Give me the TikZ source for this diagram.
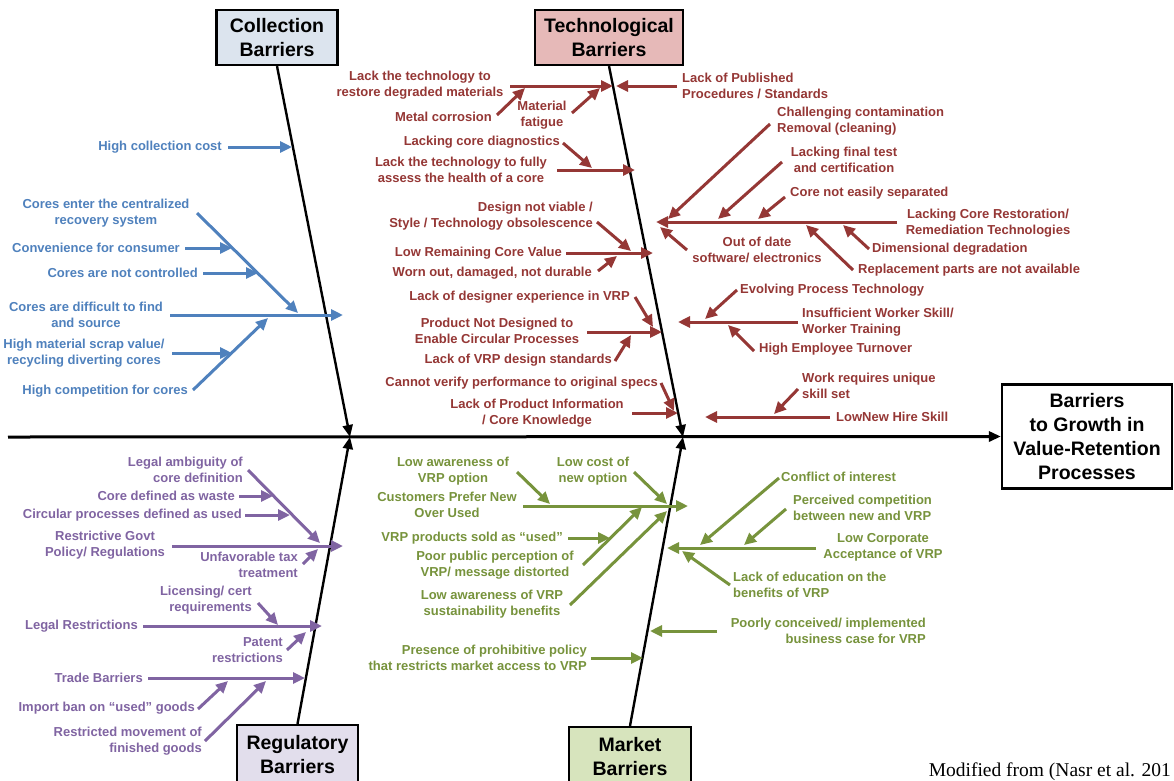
\documentclass[tikz,border=0pt]{standalone}
\usepackage{fontspec}
\setmainfont{Liberation Serif}
\setsansfont{Liberation Sans}
\usetikzlibrary{arrows.meta}
\definecolor{cb}{HTML}{4F81BD}
\definecolor{cr}{HTML}{953735}
\definecolor{cp}{HTML}{8064A2}
\definecolor{cg}{HTML}{77933C}
\definecolor{fcol}{HTML}{DCE4EE}
\definecolor{ftec}{HTML}{E6B9B8}
\definecolor{freg}{HTML}{E2DEEC}
\definecolor{fmkt}{HTML}{D7E4BD}
\newcommand\lf{\sffamily\bfseries\fontsize{13}{16}\selectfont}
\newcommand\tf{\sffamily\bfseries\fontsize{19.5}{24}\selectfont}
\newcommand\cx[4]{\coordinate (#2a) at (#3);\coordinate (#2b) at (#4);\draw[#1] (#2a) -- (#2b);}
\tikzset{
  lb/.style={font=\lf, text=#1, inner sep=0pt, align=center},
  ar/.style={draw=#1, line width=3pt, -{Triangle[length=12pt,width=11pt]}},
  catbox/.style={draw=black, line width=2.2pt, font=\tf, align=center, inner sep=0pt},
  bonear/.style={draw=black, line width=2.4pt, -{Triangle[length=12pt,width=10pt]}},
}
\begin{document}
\begin{tikzpicture}[x=1pt,y=-1pt]
\fill[white] (0,0) rectangle (1174,780);
\useasboundingbox (0,0) rectangle (1174,780);

% ---------- category boxes and main box ----------
\node[catbox, fill=fcol, minimum width=121, minimum height=55] (colbox) at (277,37.5) {Collection\\Barriers};
\node[catbox, fill=ftec, minimum width=148, minimum height=55] (tecbox) at (609,37.5) {Technological\\Barriers};
\node[catbox, fill=freg, minimum width=121, minimum height=60] (regbox) at (297.5,755) {Regulatory\\Barriers};
\node[catbox, fill=fmkt, minimum width=122, minimum height=60] (mktbox) at (630,757) {Market\\Barriers};
\node[catbox, fill=white, minimum width=170, minimum height=104] (goal) at (1087,436.5) {Barriers\\to Growth in\\Value-Retention\\Processes};

% ---------- spine and bones ----------
\coordinate (spL) at (8,437);
\draw[bonear, line width=3pt] (spL) -- (goal.west);
\coordinate (hitC) at (350,437);
\coordinate (hitT) at (683,437);
\draw[bonear] (colbox.south) -- (hitC);
\draw[bonear] (tecbox.south) -- (hitT);
\draw[bonear] (regbox.north) -- (hitC);
\draw[bonear] (mktbox.north) -- (hitT);

% ---------- Collection (blue) ----------
\node[lb=cb, anchor=east] (c1) at (222,147) {High collection cost};
\cx{ar=cb}{c1}{228,147}{292,147}
\node[lb=cb] (c2) at (106,213) {Cores enter the centralized\\recovery system};
\cx{ar=cb}{c2}{197,213}{298,313}
\node[lb=cb, anchor=east] (c3) at (180,248) {Convenience for consumer};
\cx{ar=cb}{c3}{185,248}{232,248}
\node[lb=cb, anchor=east] (c4) at (198,273) {Cores are not controlled};
\cx{ar=cb}{c4}{203,273}{258,273}
\node[lb=cb] (c5) at (86,315) {Cores are difficult to find\\and source};
\cx{ar=cb}{c5}{170,315}{343,315}
\node[lb=cb] (c6) at (84,353) {High material scrap value/\\recycling diverting cores};
\cx{ar=cb}{c6}{172,353}{232,353}
\node[lb=cb, anchor=east] (c7) at (188,391) {High competition for cores};
\cx{ar=cb}{c7}{193,390}{268,318}

% ---------- Technological (red) ----------
\node[lb=cr] (t1) at (420,85.5) {Lack the technology to\\restore degraded materials};
\cx{ar=cr}{t1}{510,86}{613,86}
\node[lb=cr, anchor=west, align=left] (t2) at (682,86) {Lack of Published\\Procedures / Standards};
\cx{ar=cr}{t2}{677,86}{616,86}
\node[lb=cr, anchor=east] (t3) at (492,117) {Metal corrosion};
\cx{ar=cr}{t3}{497,115}{525,88}
\node[lb=cr] (t4) at (542,115) {Material\\fatigue};
\cx{ar=cr}{t4}{572,113}{600,88}
\node[lb=cr, anchor=east] (t5) at (560,142) {Lacking core diagnostics};
\cx{ar=cr}{t5}{563,143}{592,168}
\node[lb=cr] (t6) at (461,170) {Lack the technology to fully\\assess the health of a core};
\cx{ar=cr}{t6}{557,170}{635,170}
\node[lb=cr, anchor=east, align=right] (t7) at (593,216) {Design not viable /\\Style / Technology obsolescence};
\cx{ar=cr}{t7}{597,222}{631,251}
\node[lb=cr, anchor=east] (t8) at (562,253) {Low Remaining Core Value};
\cx{ar=cr}{t8}{566,253}{653,253}
\node[lb=cr, anchor=east] (t9) at (592,273) {Worn out, damaged, not durable};
\cx{ar=cr}{t9}{598,271}{617,256}
\node[lb=cr, anchor=east] (t10) at (630,297) {Lack of designer experience in VRP};
\cx{ar=cr}{t10}{635,297}{653,327}
\node[lb=cr] (t11) at (497,331) {Product Not Designed to\\Enable Circular Processes};
\cx{ar=cr}{t11}{587,332}{662,332}
\node[lb=cr, anchor=east] (t12) at (612,360) {Lack of VRP design standards};
\cx{ar=cr}{t12}{615,361}{631,335}
\node[lb=cr, anchor=east] (t13) at (658,383) {Cannot verify performance to original specs};
\cx{ar=cr}{t13}{661,383}{674,411}
\node[lb=cr] (t14) at (537,413) {Lack of Product Information\\/ Core Knowledge};
\cx{ar=cr}{t14}{632,413}{678,413}
% right side
\node[lb=cr] (t15) at (988,223) {Lacking Core Restoration/\\Remediation Technologies};
\cx{ar=cr}{t15}{897,222}{656,222}
\node[lb=cr, anchor=west, align=left] (t16) at (777,121) {Challenging contamination\\Removal (cleaning)};
\cx{ar=cr}{t16}{770,124}{668,219}
\node[lb=cr] (t17) at (844,160) {Lacking final test\\and certification};
\cx{ar=cr}{t17}{782,162}{718,219}
\node[lb=cr, anchor=west] (t18) at (790,193) {Core not easily separated};
\cx{ar=cr}{t18}{785,197}{758,219}
\node[lb=cr] (t19) at (757,250) {Out of date\\software/ electronics};
\cx{ar=cr}{t19}{687,250}{660,227}
\node[lb=cr, anchor=west] (t20) at (872,249) {Dimensional degradation};
\cx{ar=cr}{t20}{869,249}{843,225}
\node[lb=cr, anchor=west] (t21) at (858,270) {Replacement parts are not available};
\cx{ar=cr}{t21}{853,270}{806,225}
\node[lb=cr, anchor=west, align=left] (t22) at (802,322) {Insufficient Worker Skill/\\Worker Training};
\cx{ar=cr}{t22}{798,322}{678,322}
\node[lb=cr, anchor=west] (t23) at (740,290) {Evolving Process Technology};
\cx{ar=cr}{t23}{737,290}{705,319}
\node[lb=cr, anchor=west] (t24) at (759,349) {High Employee Turnover};
\cx{ar=cr}{t24}{754,351}{728,325}
\node[lb=cr, anchor=west, align=left] (t25) at (802,386) {Work requires unique\\skill set};
\cx{ar=cr}{t25}{798,389}{774,414}
\node[lb=cr, anchor=west] (t26) at (836,417) {LowNew Hire Skill};
\cx{ar=cr}{t26}{830,417}{705,417}

% ---------- Regulatory (purple) ----------
\node[lb=cp, anchor=east, align=right] (r1) at (243,470) {Legal ambiguity of\\core definition};
\cx{ar=cp}{r1}{248,470}{320,543}
\node[lb=cp, anchor=east] (r2) at (235,496) {Core defined as waste};
\cx{ar=cp}{r2}{239,496}{273,496}
\node[lb=cp, anchor=east] (r3) at (242,515) {Circular processes defined as used};
\cx{ar=cp}{r3}{245,515}{290,515}
\node[lb=cp] (r4) at (105,545) {Restrictive Govt\\Policy/ Regulations};
\cx{ar=cp}{r4}{172,546}{343,546}
\node[lb=cp, anchor=east, align=right] (r5) at (298,565) {Unfavorable tax\\treatment};
\cx{ar=cp}{r5}{303,564}{318,549}
\node[lb=cp, anchor=east, align=right] (r6) at (252,600) {Licensing/ cert\\requirements};
\cx{ar=cp}{r6}{258,603}{278,625}
\node[lb=cp, anchor=east] (r7) at (138,626) {Legal Restrictions};
\cx{ar=cp}{r7}{143,626}{322,626}
\node[lb=cp, anchor=east, align=right] (r8) at (283,650) {Patent\\restrictions};
\cx{ar=cp}{r8}{287,650}{306,632}
\node[lb=cp, anchor=east] (r9) at (143,678) {Trade Barriers};
\cx{ar=cp}{r9}{148,678}{305,678}
\node[lb=cp, anchor=east] (r10) at (195,708) {Import ban on “used” goods};
\cx{ar=cp}{r10}{198,709}{228,681}
\node[lb=cp, anchor=east, align=right] (r11) at (202,741) {Restricted movement of\\finished goods};
\cx{ar=cp}{r11}{205,741}{266,681}

% ---------- Market (green) ----------
\node[lb=cg] (m1) at (453,471) {Low awareness of\\VRP option};
\cx{ar=cg}{m1}{517,472}{550,504}
\node[lb=cg] (m2) at (593,471) {Low cost of\\new option};
\cx{ar=cg}{m2}{634,472}{667,504}
\node[lb=cg] (m3) at (447,505) {Customers Prefer New\\Over Used};
\cx{ar=cg}{m3}{523,506}{688,506}
\node[lb=cg, anchor=east] (m4) at (563,538) {VRP products sold as “used”};
\cx{ar=cg}{m4}{568,538}{610,538}
\node[lb=cg] (m5) at (495,565) {Poor public perception of\\VRP/ message distorted};
\cx{ar=cg}{m5}{583,565}{642,507}
\node[lb=cg] (m6) at (492,604) {Low awareness of VRP\\sustainability benefits};
\cx{ar=cg}{m6}{570,605}{667,511}
\node[lb=cg, anchor=east, align=right] (m7) at (587,658) {Presence of prohibitive policy\\that restricts market access to VRP};
\cx{ar=cg}{m7}{591,658}{643,658}
% right side
\node[lb=cg, anchor=west] (m8) at (781,477) {Conflict of interest};
\cx{ar=cg}{m8}{779,478}{700,545}
\node[lb=cg, anchor=west, align=left] (m9) at (793,508) {Perceived competition\\between new and VRP};
\cx{ar=cg}{m9}{786,509}{744,545}
\node[lb=cg] (m10) at (883,547) {Low Corporate\\Acceptance of VRP};
\cx{ar=cg}{m10}{816,548}{667,548}
\node[lb=cg, anchor=west, align=left] (m11) at (733,585) {Lack of education on the\\benefits of VRP};
\cx{ar=cg}{m11}{730,585}{682,551}
\node[lb=cg, anchor=east, align=right] (m12) at (926,631) {Poorly conceived/ implemented\\business case for VRP};
\cx{ar=cg}{m12}{717,631}{650,631}

% ---------- source note ----------
\node[anchor=base east, inner sep=0pt, font=\rmfamily\fontsize{19.5}{23}\selectfont] (src) at (1171,776) {Modified from (Nasr et al. 201};
\end{tikzpicture}
\end{document}
